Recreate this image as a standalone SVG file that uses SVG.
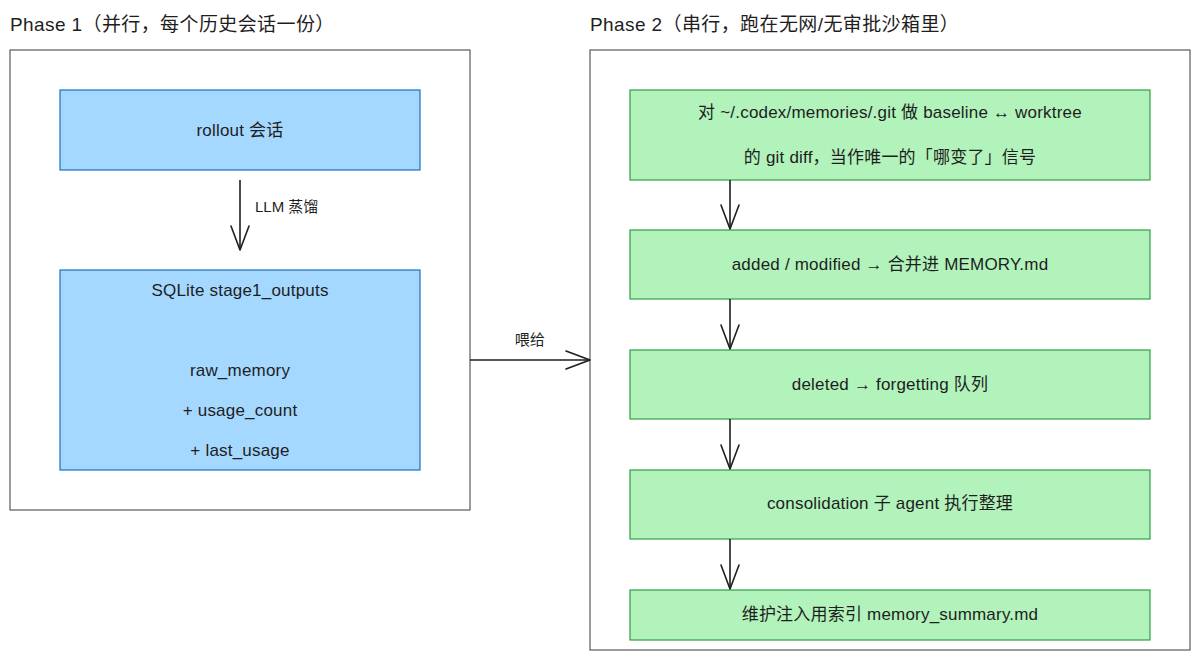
<svg xmlns="http://www.w3.org/2000/svg" width="1200" height="660" viewBox="0 0 1200 660">
  <style>
    text { font-family: "Liberation Sans", "Noto Sans CJK SC", sans-serif; fill: #1e1e1e; }
    .title { font-size: 19px; letter-spacing: 0.4px; }
    .label { font-size: 17px; text-anchor: middle; dominant-baseline: central; letter-spacing: 0.2px; }
    .edge-label { font-size: 15px; dominant-baseline: central; }
    .frame { fill: #ffffff; stroke: #5a5a5a; stroke-width: 1.2; }
    .blue { fill: #a5d8ff; stroke: #1971c2; stroke-width: 1.2; }
    .green { fill: #b2f2bb; stroke: #2f9e44; stroke-width: 1.2; }
    .edge { fill: none; stroke: #1e1e1e; stroke-width: 1.6; marker-end: url(#open-arrow); }
  </style>
  <defs>
    <marker id="open-arrow" markerUnits="userSpaceOnUse" markerWidth="30" markerHeight="24" viewBox="-26 -12 30 24" refX="0" refY="0" orient="auto" overflow="visible">
      <path d="M-24,-9 L0,0 L-24,9" fill="none" stroke="#1e1e1e" stroke-width="1.6" stroke-linecap="round" stroke-linejoin="round"/>
    </marker>
  </defs>

  <rect width="1200" height="660" fill="#ffffff"/>

  <!-- Phase 1 frame -->
  <g id="phase1">
    <text class="title" x="10" y="31">Phase 1（并行，每个历史会话一份）</text>
    <rect class="frame" x="10" y="50" width="460" height="460"/>
  </g>

  <!-- Phase 2 frame -->
  <g id="phase2">
    <text class="title" x="590" y="31">Phase 2（串行，跑在无网/无审批沙箱里）</text>
    <rect class="frame" x="590" y="50" width="600" height="600"/>
  </g>

  <g id="rollout">
    <rect class="blue" x="60" y="90" width="360" height="80"/>
    <text class="label" x="240" y="130">rollout 会话</text>
  </g>

  <g id="stage1-outputs">
    <rect class="blue" x="60" y="270" width="360" height="200"/>
    <text class="label" x="240" y="290">SQLite stage1_outputs</text>
    <text class="label" x="240" y="370">raw_memory</text>
    <text class="label" x="240" y="410">+ usage_count</text>
    <text class="label" x="240" y="450">+ last_usage</text>
  </g>

  <g id="git-diff">
    <rect class="green" x="630" y="90" width="520" height="90"/>
    <text class="label" x="890" y="112">对 ~/.codex/memories/.git 做 baseline ↔ worktree</text>
    <text class="label" x="890" y="157">的 git diff，当作唯一的「哪变了」信号</text>
  </g>

  <g id="merge">
    <rect class="green" x="630" y="230" width="520" height="69"/>
    <text class="label" x="890" y="264">added / modified → 合并进 MEMORY.md</text>
  </g>

  <g id="forgetting">
    <rect class="green" x="630" y="350" width="520" height="69"/>
    <text class="label" x="890" y="384">deleted → forgetting 队列</text>
  </g>

  <g id="consolidation">
    <rect class="green" x="630" y="470" width="520" height="69"/>
    <text class="label" x="890" y="503">consolidation 子 agent 执行整理</text>
  </g>

  <g id="summary">
    <rect class="green" x="630" y="590" width="520" height="50"/>
    <text class="label" x="890" y="614">维护注入用索引 memory_summary.md</text>
  </g>

  <!-- connectors -->
  <g id="connectors">
    <path class="edge" d="M240,180 L240,250"/>
    <text class="edge-label" x="255" y="206">LLM 蒸馏</text>
    <path class="edge" d="M470,360 L590,360"/>
    <text class="label" x="530" y="339" style="font-size:15px">喂给</text>
    <path class="edge" d="M730,180 L730,229"/>
    <path class="edge" d="M730,299 L730,349"/>
    <path class="edge" d="M730,419 L730,469"/>
    <path class="edge" d="M730,539 L730,589"/>
  </g>
</svg>
